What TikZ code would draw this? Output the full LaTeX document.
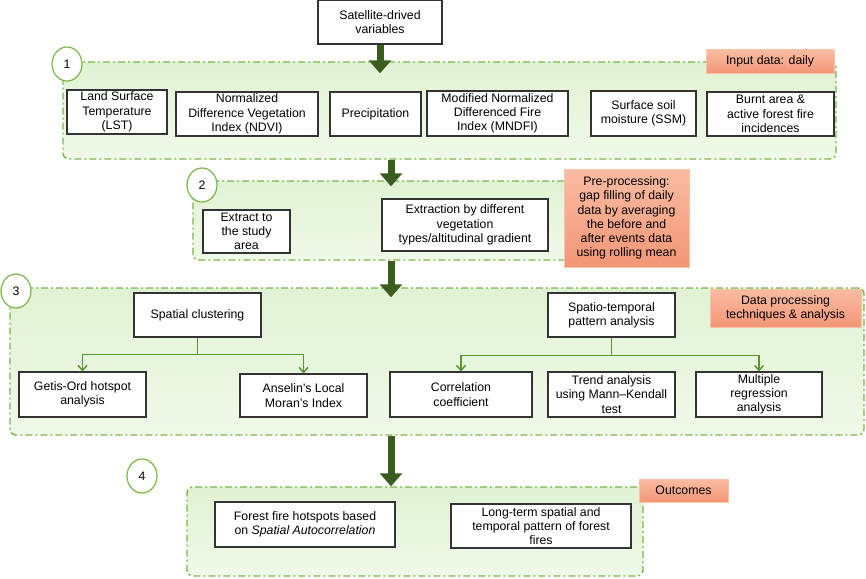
\documentclass[tikz,border=0pt]{standalone}
\usepackage{fontspec}
\setmainfont{Liberation Sans}
\usetikzlibrary{arrows.meta,shapes.geometric}
\definecolor{panelline}{RGB}{122,182,72}
\definecolor{panelfillA}{RGB}{224,242,211}
\definecolor{panelfillB}{RGB}{240,249,233}
\definecolor{arrowgreen}{RGB}{58,92,30}
\definecolor{branchgreen}{RGB}{92,148,52}
\definecolor{salmontop}{RGB}{250,188,163}
\definecolor{salmonbot}{RGB}{242,150,118}
\definecolor{salmonline}{RGB}{248,196,166}
\begin{document}
\begin{tikzpicture}[x=1pt, y=-1pt,
  every node/.style={font=\fontsize{12.3}{14.3}\selectfont, align=center, inner sep=0pt},
  panel/.style={draw=panelline, line width=1.4pt, dash pattern=on 7pt off 3pt on 2pt off 3pt,
    rounded corners=6pt, top color=panelfillA, bottom color=panelfillB},
  stepmark/.style={ellipse, draw=panelline, fill=white, line width=1.2pt, minimum width=30, minimum height=34},
  databox/.style={draw=black!80, fill=white, line width=1.1pt},
  notebox/.style={draw=salmonline, line width=0.8pt, top color=salmontop, bottom color=salmonbot},
  bigarrow/.style={draw=arrowgreen, line width=7pt, -{Triangle[width=22pt, length=13pt]}},
  branch/.style={draw=branchgreen, line width=1.5pt, -{Straight Barb[width=9pt, length=5pt]}}]
\useasboundingbox (0,0) rectangle (866,578);
\coordinate (spine) at (391,0);

\node [panel, minimum width=773, minimum height=97] (p1) at (449.5,110.5) {};
\node [panel, minimum width=407, minimum height=79] (p2) at (396.5,220.5) {};
\node [panel, minimum width=854, minimum height=147] (p3) at (437,361.5) {};
\node [panel, minimum width=456, minimum height=89] (p4) at (415,531.5) {};

\node [stepmark] (c1) at (67,64) {1};
\node [stepmark] (c2) at (202,185) {2};
\node [stepmark] (c3) at (16,291) {3};
\node [stepmark] (c4) at (142,476) {4};

\node [notebox, minimum width=128, minimum height=23] (inp) at (770,61.5) {Input data: daily};
\node [notebox, minimum width=125, minimum height=98] (pre) at (626.5,218) {Pre-processing:\\gap filling of daily\\data by averaging\\the before and\\after events data\\using rolling mean};
\node [notebox, minimum width=151, minimum height=38] (dpt) at (785.5,308) {Data processing\\techniques \& analysis};
\node [notebox, minimum width=89, minimum height=23] (out) at (683.5,490.5) {Outcomes};

\node [databox, minimum width=124, minimum height=44] (sat) at (380,22) {Satellite-drived\\variables};

\node [databox, minimum width=100, minimum height=44] (lst) at (117,112) {Land Surface\\Temperature\\(LST)};
\node [databox, minimum width=142, minimum height=44] (ndvi) at (247,114) {Normalized\\Difference Vegetation\\Index (NDVI)};
\node [databox, minimum width=91, minimum height=44] (prec) at (375.5,114) {Precipitation};
\node [databox, minimum width=141, minimum height=45] (mndfi) at (497.5,113.5) {Modified Normalized\\Differenced Fire\\Index (MNDFI)};
\node [databox, minimum width=105, minimum height=45] (ssm) at (643.5,113.5) {Surface soil\\moisture (SSM)};
\node [databox, minimum width=127, minimum height=44] (burnt) at (770.5,114) {Burnt area \&\\active forest fire\\incidences};

\node [databox, minimum width=87, minimum height=43] (ext) at (246.5,231.5) {Extract to\\the study\\area};
\node [databox, minimum width=166, minimum height=52] (extv) at (465,225) {Extraction by different\\vegetation\\types/altitudinal gradient};

\node [databox, minimum width=127, minimum height=44] (sc) at (197.5,315) {Spatial clustering};
\node [databox, minimum width=127, minimum height=44] (stp) at (611.5,315) {Spatio-temporal\\pattern analysis};
\node [databox, minimum width=127, minimum height=45] (getis) at (82.5,394.5) {Getis-Ord hotspot\\analysis};
\node [databox, minimum width=127, minimum height=43] (ans) at (303.5,395.5) {Anselin's Local\\Moran's Index};
\node [databox, minimum width=142, minimum height=45] (corr) at (461,394.5) {Correlation\\coefficient};
\node [databox, minimum width=127, minimum height=45] (trend) at (611.5,394.5) {Trend analysis\\using Mann--Kendall\\test};
\node [databox, minimum width=126, minimum height=45] (mult) at (759,394.5) {Multiple\\regression\\analysis};

\node [databox, minimum width=180, minimum height=45] (hot) at (305,524.5) {Forest fire hotspots based\\on \textit{Spatial Autocorrelation}};
\node [databox, minimum width=180, minimum height=44] (long) at (541,526) {Long-term spatial and\\temporal pattern of forest\\fires};

\draw [bigarrow] (sat.south) -- ([yshift=-12pt]p1.north -| sat.south);
\draw [bigarrow] (p1.south -| spine) -- ([yshift=-6pt]p2.north -| spine);
\draw [bigarrow] (p2.south -| spine) -- ([yshift=-10pt]p3.north -| spine);
\draw [bigarrow] (p3.south -| spine) -- (p4.north -| spine);

\draw [branch] (sc.south) -- ++(0,17) -| (getis.north);
\draw [branch] (sc.south) -- ++(0,17) -| (ans.north);
\draw [branch] (stp.south) -- ++(0,18) -| (corr.north);
\draw [branch] (stp.south) -- ++(0,18) -| (mult.north);
\end{tikzpicture}
\end{document}
